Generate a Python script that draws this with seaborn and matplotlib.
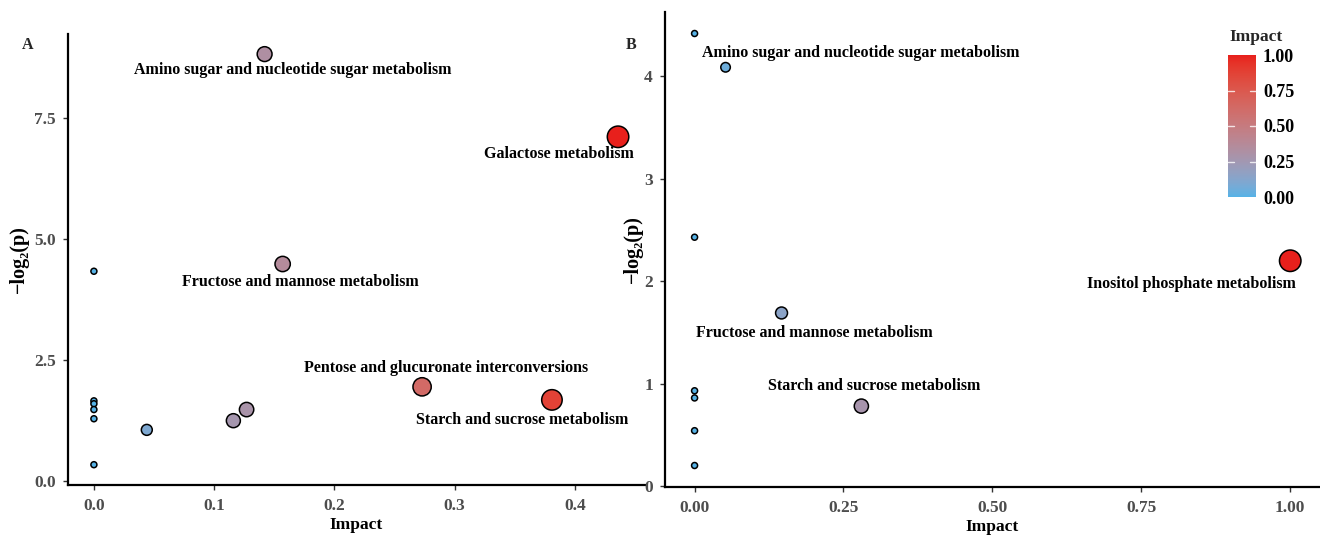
import numpy as np
import pandas as pd
import matplotlib
matplotlib.use("Agg")
import matplotlib.pyplot as plt
import seaborn as sns
from matplotlib.colors import ListedColormap, Normalize, to_rgb

# ---------------- data ----------------
a_impact = [0.142, 0.436, 0.157, 0.273, 0.381, 0.127, 0.116, 0.044,
            0.0, 0.0, 0.0, 0.0, 0.0, 0.0]
a_logp = [8.82, 7.11, 4.48, 1.94, 1.67, 1.47, 1.24, 1.05,
          4.33, 1.65, 1.59, 1.47, 1.28, 0.33]
a_names = ["Amino sugar and nucleotide sugar metabolism", "Galactose metabolism",
           "Fructose and mannose metabolism", "Pentose and glucuronate interconversions",
           "Starch and sucrose metabolism", "", "", "", "", "", "", "", "", ""]

b_impact = [0.052, 1.0, 0.146, 0.28, 0.0, 0.0, 0.0, 0.0, 0.0, 0.0]
b_logp = [4.09, 2.20, 1.69, 0.78, 4.42, 2.43, 0.93, 0.86, 0.54, 0.20]
b_names = ["Amino sugar and nucleotide sugar metabolism", "Inositol phosphate metabolism",
           "Fructose and mannose metabolism", "Starch and sucrose metabolism",
           "", "", "", "", "", ""]

a_xticks = [0.0, 0.1, 0.2, 0.3, 0.4]
a_yticks = [0.0, 2.5, 5.0, 7.5]
b_xticks = [0.0, 0.25, 0.5, 0.75, 1.0]
b_yticks = [0, 1, 2, 3, 4]
cbar_ticks = [0.0, 0.25, 0.5, 0.75, 1.0]

# label offsets (pixels, label centre relative to point)
a_offsets = {"Amino sugar and nucleotide sugar metabolism": (28, -16),
             "Galactose metabolism": (-59, -17),
             "Fructose and mannose metabolism": (18, -18),
             "Pentose and glucuronate interconversions": (24, 19),
             "Starch and sucrose metabolism": (-30, -20)}
b_offsets = {"Amino sugar and nucleotide sugar metabolism": (135, 14),
             "Inositol phosphate metabolism": (-99, -23),
             "Fructose and mannose metabolism": (33, -20),
             "Starch and sucrose metabolism": (13, 20)}

# ---------------- style ----------------
sns.set_theme(style="white")
plt.rcParams["font.family"] = ["Liberation Serif", "DejaVu Serif"]
plt.rcParams["font.weight"] = "bold"

# ggplot-like Lab gradient
def _srgb_to_lab(c):
    c = np.asarray(c, float)
    lin = np.where(c <= 0.04045, c / 12.92, ((c + 0.055) / 1.055) ** 2.4)
    M = np.array([[0.4124, 0.3576, 0.1805], [0.2126, 0.7152, 0.0722], [0.0193, 0.1192, 0.9505]])
    xyz = M @ lin / np.array([0.95047, 1.0, 1.08883])
    f = np.where(xyz > 0.008856, np.cbrt(xyz), 7.787 * xyz + 16 / 116)
    return np.array([116 * f[1] - 16, 500 * (f[0] - f[1]), 200 * (f[1] - f[2])])

def _lab_to_srgb(lab):
    L, a, b = lab
    fy = (L + 16) / 116
    fx = fy + a / 500
    fz = fy - b / 200
    f = np.array([fx, fy, fz])
    xyz = np.where(f ** 3 > 0.008856, f ** 3, (f - 16 / 116) / 7.787) * np.array([0.95047, 1.0, 1.08883])
    Minv = np.array([[3.2406, -1.5372, -0.4986], [-0.9689, 1.8758, 0.0415], [0.0557, -0.2040, 1.0570]])
    lin = Minv @ xyz
    c = np.where(lin <= 0.0031308, 12.92 * lin, 1.055 * np.clip(lin, 0, None) ** (1 / 2.4) - 0.055)
    return np.clip(c, 0, 1)

lo = _srgb_to_lab(to_rgb("#56B2E6"))
hi = _srgb_to_lab(to_rgb("#E8201C"))
cmap = ListedColormap([_lab_to_srgb(lo + (hi - lo) * t) for t in np.linspace(0, 1, 256)])

DPI = 100
fig = plt.figure(figsize=(13.2, 5.37), dpi=DPI)
W, H = 1320, 537

def px_axes(l, r, t, b):
    return fig.add_axes([l / W, (H - b) / H, (r - l) / W, (b - t) / H])

axA = px_axes(67.7, 644.5, 33.8, 485.0)
axB = px_axes(664.8, 1320.0, 12.0, 487.1)

DMIN, DMAX = 6.0, 21.5   # marker diameters in px

def draw(ax, impact, logp, names, offsets, xlim, ylim, xticks, yticks, xfmt, yfmt, xlabpad, ylabpad):
    df = pd.DataFrame({"Impact": impact, "logp": logp, "name": names})
    vmax = max(impact)
    uniq = sorted(set(impact))
    sizes = {v: ((DMIN + (DMAX - DMIN) * np.sqrt(v / vmax)) * 72 / DPI) ** 2 for v in uniq}
    sns.scatterplot(data=df, x="Impact", y="logp", hue="Impact", size="Impact",
                    palette=cmap, hue_norm=(0, vmax), sizes=sizes,
                    edgecolor="black", linewidth=1.1, legend=False, ax=ax, zorder=3)
    for _, r in df.iterrows():
        if r["name"]:
            dx, dy = offsets[r["name"]]
            ax.annotate(r["name"], (r["Impact"], r["logp"]), xytext=(dx, dy),
                        textcoords="offset pixels", ha="center", va="center",
                        fontsize=11.5, fontweight="bold", color="black", zorder=4)
    ax.set_xlim(*xlim)
    ax.set_ylim(*ylim)
    ax.set_xticks(xticks)
    ax.set_xticklabels([xfmt.format(v) for v in xticks])
    ax.set_yticks(yticks)
    ax.set_yticklabels([yfmt.format(v) for v in yticks])
    ax.tick_params(axis="both", which="both", length=3.5, width=1.0, color="#333333",
                   labelsize=12.5, labelcolor="#4D4D4D", bottom=True, left=True)
    ax.tick_params(axis="x", pad=6)
    ax.tick_params(axis="y", pad=5)
    for lab in ax.get_xticklabels() + ax.get_yticklabels():
        lab.set_fontweight("bold")
    for s in ["top", "right"]:
        ax.spines[s].set_visible(False)
    for s in ["left", "bottom"]:
        ax.spines[s].set_visible(True)
        ax.spines[s].set_color("black")
        ax.spines[s].set_linewidth(1.6)
    ax.set_xlabel("Impact", fontsize=12.5, fontweight="bold", color="black", labelpad=xlabpad)
    ax.set_ylabel("\u2212log\u2082(p)", fontsize=14.5, fontweight="bold", color="black", labelpad=ylabpad)
    ax.set_facecolor("white")
    ax.grid(False)

draw(axA, a_impact, a_logp, a_names, a_offsets, (-0.0218, 0.458), (-0.09, 9.24),
     a_xticks, a_yticks, "{:.1f}", "{:.1f}", 2, 4)
draw(axB, b_impact, b_logp, b_names, b_offsets, (-0.05, 1.05), (-0.011, 4.63),
     b_xticks, b_yticks, "{:.2f}", "{:d}", 2, 1)

fig.text(28 / W, 1 - 45 / H, "A", fontsize=11.5, fontweight="bold", ha="center", va="center")
fig.text(631 / W, 1 - 45 / H, "B", fontsize=11.5, fontweight="bold", ha="center", va="center")

# colorbar legend
cax = px_axes(1228, 1256, 55, 197)
sm = plt.cm.ScalarMappable(norm=Normalize(0, 1), cmap=cmap)
cb = fig.colorbar(sm, cax=cax)
cb.outline.set_visible(False)
cb.set_ticks(cbar_ticks)
cb.set_ticklabels(["{:.2f}".format(v) for v in cbar_ticks])
cax.tick_params(length=0, labelsize=13, pad=5, labelcolor="black")
for lab in cax.get_yticklabels():
    lab.set_fontweight("bold")
for v in cbar_ticks[1:-1]:
    cax.plot([0, 0.2], [v, v], color="white", lw=1, transform=cax.get_yaxis_transform(), alpha=0.8)
    cax.plot([0.8, 1.0], [v, v], color="white", lw=1, transform=cax.get_yaxis_transform(), alpha=0.8)
fig.text(1229 / W, 1 - 37 / H, "Impact", fontsize=12.5, fontweight="bold", ha="left", va="center")

fig.savefig("out.png", dpi=DPI, facecolor="white")
